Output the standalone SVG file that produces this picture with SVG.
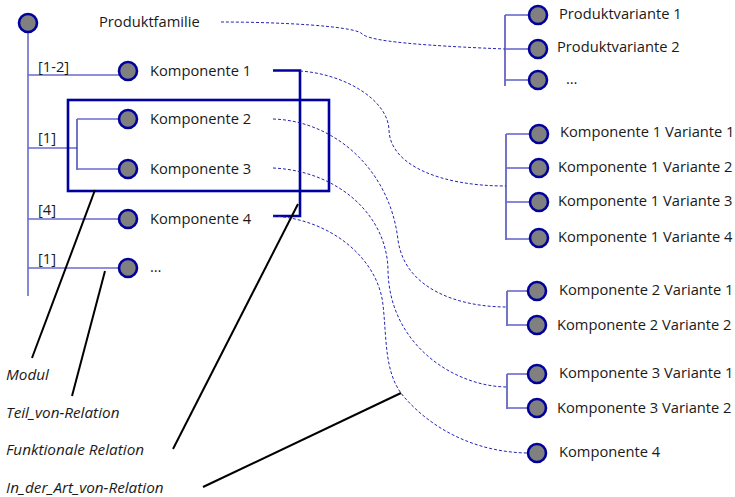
<svg xmlns="http://www.w3.org/2000/svg" width="735" height="497" viewBox="0 0 735 497">
<style>
text{font-family:"Open Sans","Liberation Sans",sans-serif;font-size:14.7px;fill:#1a1a1a}
.it{font-style:italic;font-size:15.3px}
.nd{fill:#808080;stroke:#00009a;stroke-width:2.6}
.br{stroke:#6a6ad0;stroke-width:1.6;fill:none}
.vr{stroke:#2a2aa8;stroke-width:1.3;fill:none}
.dt{stroke:#2424b4;stroke-width:1;stroke-dasharray:3 2;fill:none}
.th{stroke:#0000a0;stroke-width:2.6;fill:none}
.bk{stroke:#000;stroke-width:2;fill:none}
</style>
<rect width="735" height="497" fill="#fff"/>
<g id="connectors">
<line class="br" x1="28" y1="23" x2="28" y2="296"/>
<line class="br" x1="28" y1="75" x2="120" y2="75"/>
<line class="br" x1="28" y1="148" x2="77" y2="148"/>
<line class="vr" x1="77" y1="119" x2="77" y2="170"/>
<line class="br" x1="77" y1="119" x2="120" y2="119"/>
<line class="br" x1="77" y1="169" x2="120" y2="169"/>
<line class="br" x1="28" y1="219" x2="120" y2="219"/>
<line class="br" x1="28" y1="268" x2="120" y2="268"/>
<rect class="th" x="68" y="100" width="261" height="91"/>
<polyline class="th" points="273,70.5 300,70.5 300,216 273,216"/>
<line class="vr" x1="505" y1="15" x2="505" y2="86"/>
<line class="br" x1="505" y1="15" x2="530" y2="15"/>
<line class="br" x1="505" y1="49" x2="530" y2="49"/>
<line class="br" x1="505" y1="80" x2="530" y2="80"/>
<line class="vr" x1="506" y1="134" x2="506" y2="240"/>
<line class="br" x1="506" y1="134" x2="531" y2="134"/>
<line class="br" x1="506" y1="168" x2="531" y2="168"/>
<line class="br" x1="506" y1="202" x2="531" y2="202"/>
<line class="br" x1="506" y1="239" x2="531" y2="239"/>
<line class="vr" x1="507" y1="291" x2="507" y2="326"/>
<line class="br" x1="507" y1="291" x2="530" y2="291"/>
<line class="br" x1="507" y1="325" x2="530" y2="325"/>
<line class="vr" x1="507" y1="374" x2="507" y2="409"/>
<line class="br" x1="507" y1="374" x2="530" y2="374"/>
<line class="br" x1="507" y1="408" x2="530" y2="408"/>
<path class="dt" d="M221,22 C280,22 350,26 361,33 C366,38 380,44 505,49"/>
<path class="dt" d="M300,71 C345,74 388,100 389,130 C390,165 440,186 506,186"/>
<path class="dt" d="M273,119 C335,121 390,170 398,240 C405,290 460,307 507,307"/>
<path class="dt" d="M273,168 C338,171 387,215 388,270 C389,345 455,387 508,387"/>
<path class="dt" d="M273,216 C330,219 378,258 383,305 C387,340 384,375 405,398 C435,432 480,453 530,453"/>
<line class="bk" x1="95" y1="190" x2="32" y2="358"/>
<line class="bk" x1="105" y1="271" x2="72" y2="396"/>
<line class="bk" x1="298" y1="204" x2="173" y2="449"/>
<line class="bk" x1="401" y1="393" x2="203" y2="487"/>
</g>
<g id="produktfamilie"><circle class="nd" cx="28" cy="23" r="9"/><text x="99" y="27">Produktfamilie</text></g>
<g id="k1"><circle class="nd" cx="128" cy="71" r="9"/><text x="150" y="76">Komponente 1</text><text x="38" y="72">[1-2]</text></g>
<g id="k2"><circle class="nd" cx="128" cy="119" r="9"/><text x="150" y="124">Komponente 2</text></g>
<g id="k3"><circle class="nd" cx="128" cy="169" r="9"/><text x="150" y="174">Komponente 3</text><text x="38" y="143">[1]</text></g>
<g id="k4"><circle class="nd" cx="128" cy="219" r="9"/><text x="150" y="224">Komponente 4</text><text x="38" y="215">[4]</text></g>
<g id="kdots"><circle class="nd" cx="128" cy="268" r="9"/><text x="150" y="272">…</text><text x="38" y="264">[1]</text></g>
<g id="pv1"><circle class="nd" cx="538" cy="15" r="9"/><text x="559" y="19">Produktvariante 1</text></g>
<g id="pv2"><circle class="nd" cx="538" cy="49" r="9"/><text x="557" y="52">Produktvariante 2</text></g>
<g id="pvdots"><circle class="nd" cx="538" cy="80" r="9"/><text x="566" y="84">…</text></g>
<g id="k1v1"><circle class="nd" cx="539" cy="134" r="9"/><text x="560" y="137">Komponente 1 Variante 1</text></g>
<g id="k1v2"><circle class="nd" cx="539" cy="168" r="9"/><text x="558" y="172">Komponente 1 Variante 2</text></g>
<g id="k1v3"><circle class="nd" cx="539" cy="202" r="9"/><text x="558" y="206">Komponente 1 Variante 3</text></g>
<g id="k1v4"><circle class="nd" cx="539" cy="238" r="9"/><text x="558" y="242">Komponente 1 Variante 4</text></g>
<g id="k2v1"><circle class="nd" cx="537" cy="291" r="9"/><text x="559" y="295">Komponente 2 Variante 1</text></g>
<g id="k2v2"><circle class="nd" cx="537" cy="325" r="9"/><text x="557" y="330">Komponente 2 Variante 2</text></g>
<g id="k3v1"><circle class="nd" cx="537" cy="374" r="9"/><text x="559" y="378">Komponente 3 Variante 1</text></g>
<g id="k3v2"><circle class="nd" cx="537" cy="408" r="9"/><text x="557" y="413">Komponente 3 Variante 2</text></g>
<g id="k4v"><circle class="nd" cx="537" cy="453" r="9"/><text x="559" y="457">Komponente 4</text></g>
<g id="legend">
<text class="it" x="6" y="380">Modul</text>
<text class="it" x="6" y="418">Teil_von-Relation</text>
<text class="it" x="6" y="455">Funktionale Relation</text>
<text class="it" x="6" y="493">In_der_Art_von-Relation</text>
</g>
</svg>
